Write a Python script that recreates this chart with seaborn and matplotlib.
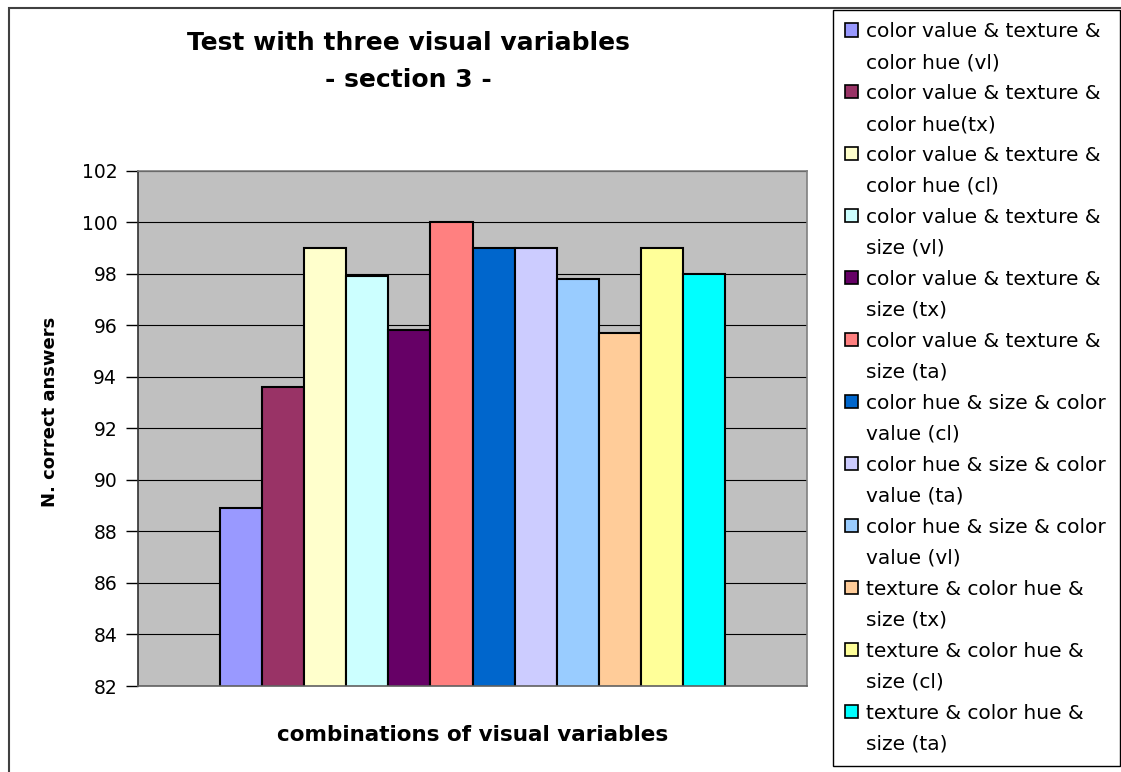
import matplotlib
matplotlib.use("Agg")
import matplotlib.pyplot as plt
from matplotlib.patches import Patch, Rectangle
import pandas as pd
import seaborn as sns

# Series names (line breaks mark how each legend entry wraps)
series = [
    "color value & texture &\ncolor hue (vl)",
    "color value & texture &\ncolor hue(tx)",
    "color value & texture &\ncolor hue (cl)",
    "color value & texture &\nsize (vl)",
    "color value & texture &\nsize (tx)",
    "color value & texture &\nsize (ta)",
    "color hue & size & color\nvalue (cl)",
    "color hue & size & color\nvalue (ta)",
    "color hue & size & color\nvalue (vl)",
    "texture & color hue &\nsize (tx)",
    "texture & color hue &\nsize (cl)",
    "texture & color hue &\nsize (ta)",
]
values = [88.9, 93.6, 99.0, 97.9, 95.8, 100.0, 99.0, 99.0, 97.8, 95.7, 99.0, 98.0]
colors = [
    "#9999FF", "#993366", "#FFFFCC", "#CCFFFF", "#660066", "#FF8080",
    "#0066CC", "#CCCCFF", "#99CCFF", "#FFCC99", "#FFFF99", "#00FFFF",
]
yticks = list(range(82, 103, 2))

title_lines = ["Test with three visual variables", "- section 3 -"]
xlabel = "combinations of visual variables"
ylabel = "N. correct answers"

plt.rcParams["font.family"] = ["DejaVu Sans"]

df = pd.DataFrame({"group": ["all"] * len(series), "series": series, "value": values})

W, H = 1121, 772
fig = plt.figure(figsize=(W / 100, H / 100), dpi=100)
fig.patch.set_facecolor("white")

# plot area
ax = fig.add_axes([138 / W, (H - 686) / H, (807 - 138) / W, (686 - 170.7) / H])
ax.set_facecolor("#C0C0C0")

sns.barplot(
    data=df, x="group", y="value", hue="series", hue_order=series,
    palette=dict(zip(series, colors)), saturation=1, width=0.756,
    dodge=True, edgecolor="black", linewidth=1.5, errorbar=None,
    legend=False, ax=ax,
)

ax.set_xlim(-0.5, 0.5)
ax.set_ylim(82, 102)
ax.set_yticks(yticks)
ax.set_xticks([])
ax.yaxis.grid(True, color="black", linewidth=0.8)
ax.set_axisbelow(True)
ax.tick_params(axis="y", direction="out", length=9, width=1, pad=6,
               labelsize=13.5, colors="black")
for name, sp in ax.spines.items():
    sp.set_color("#808080")
    sp.set_linewidth(1.2)
ax.spines["left"].set_color("#303030")
ax.spines["bottom"].set_color("#606060")

ax.set_xlabel(xlabel, fontsize=15.5, fontweight="bold")
ax.xaxis.set_label_coords(0.5007, -0.095)
ax.xaxis.label.set_va("center")
ax.set_ylabel(ylabel, fontsize=13, fontweight="bold")
ax.yaxis.set_label_coords(-0.1315, 0.532)
ax.yaxis.label.set_va("center")

# title, two centred lines
fig.text(408 / W, 1 - 50 / H, title_lines[0], ha="center", va="baseline",
         fontsize=18, fontweight="bold")
fig.text(408 / W, 1 - 87 / H, title_lines[1], ha="center", va="baseline",
         fontsize=18, fontweight="bold")

# chart border
fig.add_artist(Rectangle((8.5 / W, -0.05), 1.0, 1.05 - 7.5 / H,
                         transform=fig.transFigure, fill=False,
                         edgecolor="#404040", linewidth=1.5, zorder=0))

# legend: swatch on the first line of each entry, wrapped second line below
handles, labels = [], []
for name, col in zip(series, colors):
    lines = name.split("\n")
    handles.append(Patch(facecolor=col, edgecolor="black", linewidth=1.2))
    labels.append(lines[0])
    for extra in lines[1:]:
        handles.append(Patch(facecolor="none", edgecolor="none"))
        labels.append(extra)

leg = fig.legend(
    handles, labels, loc="upper left",
    bbox_to_anchor=(833 / W, 1 - 768 / H, (1120 - 833) / W, (768 - 10) / H),
    bbox_transform=fig.transFigure, mode="expand", borderaxespad=0,
    frameon=True, fancybox=False, edgecolor="black", framealpha=1,
    fontsize=14.5, handlelength=0.62, handleheight=0.62, handletextpad=0.4,
    labelspacing=0.595, borderpad=0.6,
)
leg.get_frame().set_linewidth(1.0)

fig.savefig("out.png", dpi=100)
